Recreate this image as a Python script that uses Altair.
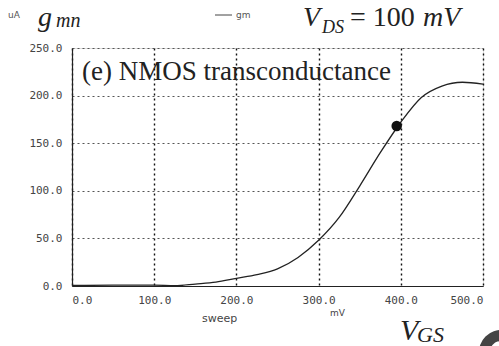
import altair as alt
import pandas as pd

# Data (VGS in mV, gm in uA/V)
vgs = [0, 50, 100, 125, 150, 175, 200, 225, 250, 275, 300, 325, 350, 375, 400, 425, 450, 475, 500]
gm = [0.5, 1, 1, 0.3, 2, 4, 8, 12, 18, 30, 48, 72, 105, 140, 172, 198, 210, 214, 212]
dot_vgs = [395]
dot_gm = [168]
x_ticks = [0, 100, 200, 300, 400, 500]
y_ticks = [0, 50, 100, 150, 200, 250]

curve_df = pd.DataFrame({"vgs": vgs, "gm": gm})
dot_df = pd.DataFrame({"vgs": dot_vgs, "gm": dot_gm})

xs = alt.Scale(domain=[0, 500], nice=False)
ys = alt.Scale(domain=[0, 250], nice=False)

SERIF = "Liberation Serif, Times New Roman, Times, DejaVu Serif, serif"

x_axis = alt.Axis(values=x_ticks, format=".1f", title=None, ticks=False,
                  grid=True, gridDash=[2, 3], gridColor="#111", gridWidth=1.4,
                  domainColor="#222", domainWidth=1.2,
                  labelFont="DejaVu Sans Mono", labelFontSize=11, labelColor="#444",
                  labelPadding=8)
y_axis = alt.Axis(values=y_ticks, format=".1f", title=None, ticks=False,
                  grid=True, gridDash=[2, 3], gridColor="#555", gridWidth=1,
                  domainColor="#222", domainWidth=1.2,
                  labelFont="DejaVu Sans Mono", labelFontSize=11, labelColor="#444",
                  labelPadding=10)

line = alt.Chart(curve_df).mark_line(color="#222", strokeWidth=1.3, interpolate="monotone", clip=True).encode(
    x=alt.X("vgs:Q", scale=xs, axis=x_axis),
    y=alt.Y("gm:Q", scale=ys, axis=y_axis),
)
dot = alt.Chart(dot_df).mark_point(filled=True, color="#111", size=110, opacity=1).encode(
    x=alt.X("vgs:Q", scale=xs),
    y=alt.Y("gm:Q", scale=ys),
)


def label(text, x, y, size, font=SERIF, style="normal", color="#222"):
    return alt.Chart(pd.DataFrame({"t": [text]})).mark_text(
        align="left", baseline="alphabetic", font=font, fontSize=size,
        fontStyle=style, color=color
    ).encode(x=alt.value(x), y=alt.value(y), text="t:N")


legend_rule = alt.Chart(pd.DataFrame({"a": [0]})).mark_rule(color="#444", strokeWidth=1).encode(
    x=alt.value(143), x2=alt.value(160), y=alt.value(-33)
)

# dark scanning smudge in the bottom-right corner
smudge = alt.Chart(pd.DataFrame({"a": [0]})).mark_arc(
    innerRadius=11, outerRadius=22, theta=4.6, theta2=6.4, color="#444"
).encode(x=alt.value(429), y=alt.value(304))

texts = [
    label("uA", -64, -30, 9, font="DejaVu Sans", color="#555"),
    label("g", -34, -22, 28, style="italic"),
    label("mn", -16, -21, 20, style="italic"),
    label("gm", 164, -30, 9, font="DejaVu Sans", color="#555"),
    label("V", 231, -22, 28, style="italic"),
    label("DS", 250, -15, 18, style="italic"),
    label("= 100", 278, -22, 28),
    label("mV", 351, -22, 28, style="italic"),
    label("(e) NMOS transconductance", 10, 32, 27),
    label("sweep", 130, 274, 11, font="DejaVu Sans", color="#444"),
    label("mV", 258, 268, 9, font="DejaVu Sans", color="#444"),
    label("V", 328, 292, 30, style="italic"),
    label("GS", 345, 294, 22, style="italic"),
]

chart = alt.layer(line, dot, legend_rule, smudge, *texts).properties(
    width=411, height=238,
    autosize=alt.AutoSizeParams(type="none"),
    padding={"left": 72, "top": 48, "right": 16, "bottom": 60},
).configure_view(stroke=None).configure(background="white")

chart.save("out.html", embed_options={"renderer": "svg", "actions": False})
